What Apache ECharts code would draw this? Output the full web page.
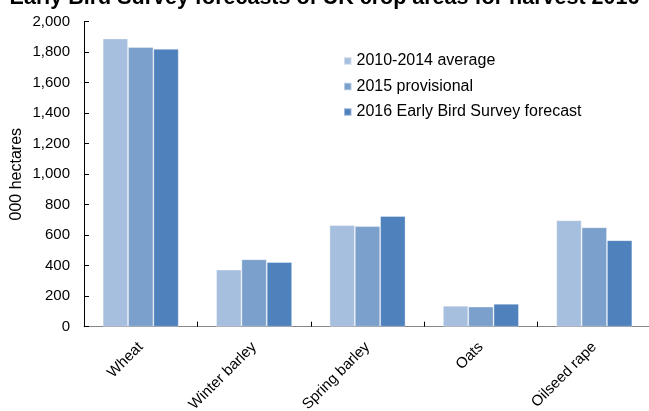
<!DOCTYPE html>
<html>
<head>
<meta charset="utf-8">
<script src="https://cdn.jsdelivr.net/npm/echarts@6/dist/echarts.min.js"></script>
<style>
  html, body { margin: 0; padding: 0; background: #fff; }
  #chart { width: 649px; height: 411px; }
</style>
</head>
<body>
<div id="chart"></div>
<script>
const titleText = "Early Bird Survey forecasts of UK crop areas for harvest 2016";
const categories = ["Wheat", "Winter barley", "Spring barley", "Oats", "Oilseed rape"];
const seriesNames = ["2010-2014 average", "2015 provisional", "2016 Early Bird Survey forecast"];
const avg2010_2014 = [1890, 374, 666, 137, 698];
const provisional2015 = [1834, 442, 659, 132, 652];
const forecast2016 = [1822, 424, 726, 150, 567];
const yAxisName = "000 hectares";
const yMin = 0, yMax = 2000, yStep = 200;

const colors = ["#A7BFDE", "#7CA0CC", "#4F81BD"];
const font = "'Liberation Sans', Arial, sans-serif";

const chart = echarts.init(document.getElementById('chart'), null, { renderer: 'canvas' });
const seriesData = [avg2010_2014, provisional2015, forecast2016];

chart.setOption({
  animation: false,
  backgroundColor: '#ffffff',
  title: {
    text: titleText,
    left: 'center',
    top: -18,
    textStyle: { fontFamily: font, fontSize: 21.5, fontWeight: 'bold', color: '#000' }
  },
  legend: {
    orient: 'vertical',
    left: 343,
    top: 53,
    padding: 0,
    itemWidth: 7.5,
    itemHeight: 7.5,
    itemGap: 9.5,
    icon: 'rect',
    textStyle: { fontFamily: font, fontSize: 16, color: '#000', lineHeight: 16 },
    data: seriesNames
  },
  grid: { left: 84, right: -2, top: 21.7, bottom: 84.3, containLabel: false, outerBoundsMode: 'none' },
  xAxis: {
    type: 'category',
    data: categories,
    axisLine: { lineStyle: { color: '#868686', width: 1 } },
    axisTick: { show: true, inside: true, length: 5, lineStyle: { color: '#000' } },
    axisLabel: { rotate: 45, margin: 18, fontFamily: font, fontSize: 15, color: '#000' }
  },
  yAxis: {
    type: 'value',
    min: yMin,
    max: yMax,
    interval: yStep,
    name: yAxisName,
    nameLocation: 'middle',
    nameGap: 59,
    nameMoveOverlap: false,
    nameRotate: 90,
    nameTextStyle: { fontFamily: font, fontSize: 16, color: '#000' },
    splitLine: { show: false },
    axisLine: { show: true, lineStyle: { color: '#000', width: 1 } },
    axisTick: { show: true, inside: true, length: 5, lineStyle: { color: '#000' } },
    axisLabel: {
      margin: 14, fontFamily: font, fontSize: 15, color: '#000',
      formatter: v => v.toLocaleString('en-US')
    }
  },
  series: seriesNames.map((n, i) => ({
    name: n,
    type: 'bar',
    data: seriesData[i],
    barGap: '0%',
    barCategoryGap: '33%',
    itemStyle: { color: colors[i], borderColor: 'rgba(255,255,255,0.45)', borderWidth: 0.8 }
  }))
});
</script>
</body>
</html>
